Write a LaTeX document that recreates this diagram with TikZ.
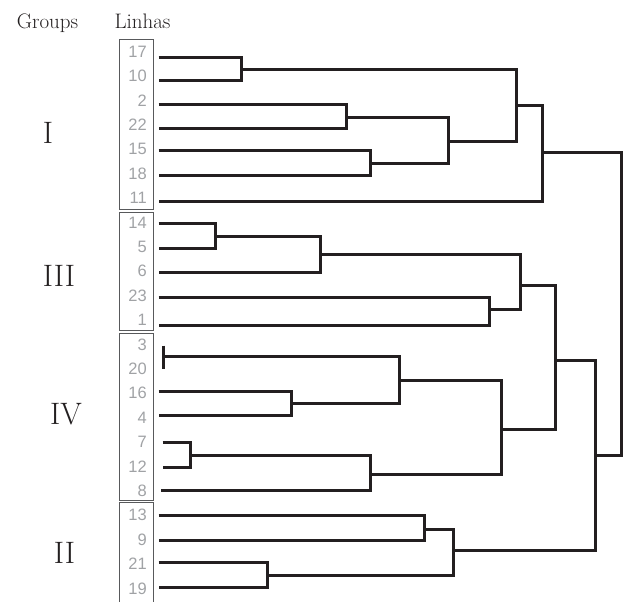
\documentclass[tikz,border=0pt]{standalone}
\usepackage{fontspec}
\newfontfamily\numfont{Liberation Sans}
\definecolor{tree}{HTML}{231F20}
\definecolor{labgray}{HTML}{A0A2A5}
\definecolor{boxgray}{HTML}{58595B}
\begin{document}
\begin{tikzpicture}[x=1pt,y=-1pt,
  branch/.style={draw=tree, line width=3pt, line cap=butt, line join=miter},
  grpbox/.style={draw=boxgray, line width=1pt},
  leaflab/.style={anchor=east, inner sep=0pt, text=labgray, font=\numfont\fontsize{16.5}{16.5}\selectfont},
  head/.style={anchor=base, inner sep=0pt, text=tree, font=\fontsize{21}{21}\selectfont},
  grp/.style={anchor=base, inner sep=0pt, text=tree, font=\fontsize{31}{31}\selectfont}]
\useasboundingbox (0,0) rectangle (624,602);

% headings
\node[head] (hgroups) at (47.5,28.7) {Groups};
\node[head] (hlinhas) at (142.5,28.7) {Linhas};

% group numerals
\node[grp] (gI) at (48,143.3) {I};
\node[grp] (gIII) at (59,286.7) {III};
\node[grp] (gIV) at (66,424.3) {IV};
\node[grp] (gII) at (64.5,563.3) {II};

% group boxes
\draw[grpbox] (119.5,39.5) rectangle (153.5,209.5);
\draw[grpbox] (119.5,212.5) rectangle (153.5,330.5);
\draw[grpbox] (119.5,333.5) rectangle (153.5,500.5);
\draw[grpbox] (119.5,602) |- (153.5,502.5) -- (153.5,602);

% leaf labels
\foreach \lab [count=\i from 0] in {17,10,2,22,15,18,11,14,5,6,23,1,3,20,16,4,7,12,8,13,9,21,19}
  \node[leaflab] (t\lab) at (147,51.7+24.4*\i) {\lab};

% leaf ends
\coordinate (l17) at (158.5,57.5);
\coordinate (l10) at (158.5,80.5);
\coordinate (l2) at (158.5,104.5);
\coordinate (l22) at (158.5,128.5);
\coordinate (l15) at (158.5,150.5);
\coordinate (l18) at (158.5,175.5);
\coordinate (l11) at (158.5,201.5);
\coordinate (l14) at (158.5,223.5);
\coordinate (l5) at (158.5,248.5);
\coordinate (l6) at (158.5,272.5);
\coordinate (l23) at (158.5,297.5);
\coordinate (l1) at (158.5,325.5);
\coordinate (l3) at (163.5,345.5);
\coordinate (l20) at (163.5,368.5);
\coordinate (l16) at (158.5,391.5);
\coordinate (l4) at (158.5,415.5);
\coordinate (l7) at (162.5,442.5);
\coordinate (l12) at (162.5,467.5);
\coordinate (l8) at (160.5,490.5);
\coordinate (l13) at (158.5,515.5);
\coordinate (l9) at (158.5,540.5);
\coordinate (l21) at (158.5,562.5);
\coordinate (l19) at (158.5,587.5);

% junctions
\coordinate (a) at (241.5,69.5);
\coordinate (b) at (346.5,117.5);
\coordinate (c) at (370.5,163.5);
\coordinate (d) at (448.5,141.5);
\coordinate (e) at (516.5,105.5);
\coordinate (f) at (542.5,152.5);
\coordinate (g) at (215.5,236.5);
\coordinate (h) at (320.5,254.5);
\coordinate (i) at (489.5,309.5);
\coordinate (j) at (520.5,285.5);
\coordinate (k) at (163.5,356.5);
\coordinate (m) at (291.5,403.5);
\coordinate (n) at (399.5,380.5);
\coordinate (o) at (190.5,455.5);
\coordinate (p) at (370.5,474.5);
\coordinate (q) at (501.5,429.5);
\coordinate (r) at (555.5,360.5);
\coordinate (s) at (424.5,529.5);
\coordinate (t) at (267.5,575.5);
\coordinate (u) at (453.5,550.5);
\coordinate (v) at (595.5,455.5);
\coordinate (w) at (621.5,300.5);

% group I
\draw[branch] (l17) -| (a) |- (l10);
\draw[branch] (l2) -| (b) |- (l22);
\draw[branch] (l15) -| (c) |- (l18);
\draw[branch] (b) -| (d) |- (c);
\draw[branch] (a) -| (e) |- (d);
\draw[branch] (e) -| (f) |- (l11);
% group III
\draw[branch] (l14) -| (g) |- (l5);
\draw[branch] (g) -| (h) |- (l6);
\draw[branch] (l23) -| (i) |- (l1);
\draw[branch] (h) -| (j) |- (i);
% group IV
\draw[branch] (l3) -- (l20);
\draw[branch] (l16) -| (m) |- (l4);
\draw[branch] (k) -| (n) |- (m);
\draw[branch] (l7) -| (o) |- (l12);
\draw[branch] (o) -| (p) |- (l8);
\draw[branch] (n) -| (q) |- (p);
\draw[branch] (j) -| (r) |- (q);
% group II
\draw[branch] (l13) -| (s) |- (l9);
\draw[branch] (l21) -| (t) |- (l19);
\draw[branch] (s) -| (u) |- (t);
% top levels
\draw[branch] (r) -| (v) |- (u);
\draw[branch] (f) -| (w) |- (v);
\end{tikzpicture}
\end{document}
